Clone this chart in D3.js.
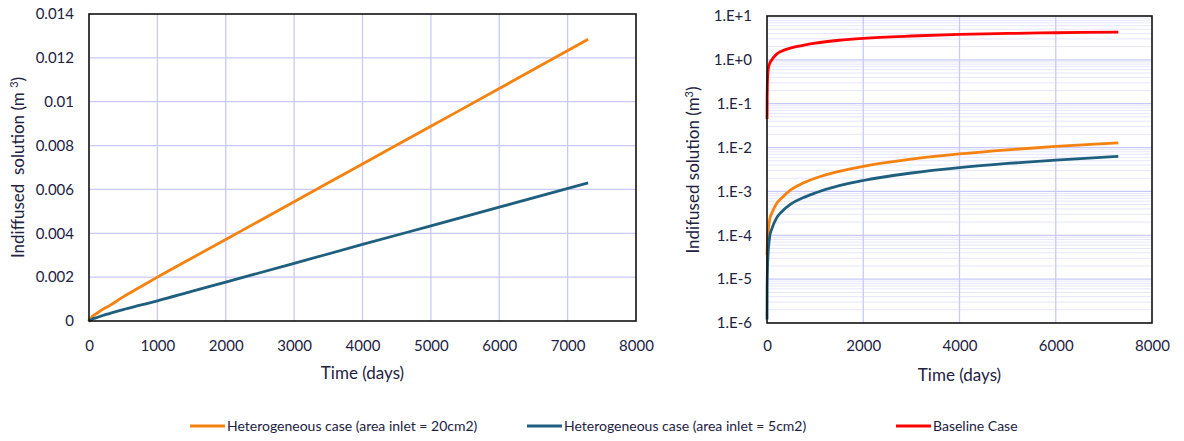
<!DOCTYPE html>
<html>
<head lang="en">
    <meta charset="UTF-8">
    <title>Indiffused solution</title>
    <script type="text/javascript" src="https://cdnjs.cloudflare.com/ajax/libs/d3/7.8.5/d3.min.js"></script>
    <style>
        body { margin: 0; background: #fff; }
        text { font-family: Lato, "Open Sans", sans-serif; fill: #22223f; }
    </style>
</head>
<body>
<svg id="mainSvg"></svg>
<script>
    // time steps (days) and the three series
    var timeDays = [0, 1, 3, 8, 15, 30, 60, 100, 200, 300, 500, 750, 1000, 1500, 2000, 3000, 4000, 5000, 6000, 7300];
    var hetero20 = [0, 3.5e-5, 4.5e-5, 6.5e-5, 9e-5, 1.4e-4, 2.4e-4, 3.2e-4, 5.3e-4, 7e-4, 1.1e-3, 1.55e-3, 2.0e-3, 2.86e-3, 3.72e-3, 5.44e-3, 7.16e-3, 8.88e-3, 1.06e-2, 1.285e-2];
    var hetero5 = [0, 1.2e-6, 6e-6, 1.4e-5, 2.6e-5, 5e-5, 1e-4, 1.4e-4, 2.5e-4, 3.4e-4, 5.2e-4, 7.2e-4, 9.2e-4, 1.35e-3, 1.775e-3, 2.63e-3, 3.49e-3, 4.34e-3, 5.19e-3, 6.3e-3];
    var baseline = [null, 0.045, 0.12, 0.28, 0.45, 0.65, 0.85, 1.0, 1.35, 1.58, 1.88, 2.15, 2.4, 2.8, 3.1, 3.5, 3.8, 4.0, 4.15, 4.3];

    var seriesNames = ["Heterogeneous case (area inlet = 20cm2)", "Heterogeneous case (area inlet = 5cm2)", "Baseline Case"];
    var seriesColors = ["#f5820f", "#1f5f7e", "#ff0000"];

    var xTicksLeft = [0, 1000, 2000, 3000, 4000, 5000, 6000, 7000, 8000];
    var yTicksLeft = [0, 0.002, 0.004, 0.006, 0.008, 0.01, 0.012, 0.014];
    var yTickLabelsLeft = ["0", "0.002", "0.004", "0.006", "0.008", "0.01", "0.012", "0.014"];
    var xTicksRight = [0, 2000, 4000, 6000, 8000];
    var yExpRight = [-6, -5, -4, -3, -2, -1, 0, 1];

    var w = 1184, h = 441;
    var svg = d3.select("#mainSvg").attr("width", w).attr("height", h);

    var gridMajor = "#c9c9fb", gridMinor = "#e6e6fb";

    function series(vals) {
        return timeDays.map(function (t, i) { return {t: t, v: vals[i]}; });
    }

    // ---------- left chart (linear) ----------
    var L = {x0: 89, x1: 636, y0: 14, y1: 321};
    var xL = d3.scaleLinear().domain([0, 8000]).range([L.x0, L.x1]);
    var yL = d3.scaleLinear().domain([0, 0.014]).range([L.y1, L.y0]);

    var gl = svg.append("g");
    gl.selectAll("line.vg").data(xTicksLeft.slice(1, -1)).enter().append("line")
            .attr("x1", function (d) { return xL(d); }).attr("x2", function (d) { return xL(d); })
            .attr("y1", L.y0).attr("y2", L.y1).attr("stroke", gridMajor).attr("stroke-width", 1.3);
    gl.selectAll("line.hg").data(yTicksLeft.slice(1, -1)).enter().append("line")
            .attr("y1", function (d) { return yL(d); }).attr("y2", function (d) { return yL(d); })
            .attr("x1", L.x0).attr("x2", L.x1).attr("stroke", gridMajor).attr("stroke-width", 1.3);

    var lineL = d3.line().x(function (d) { return xL(d.t); }).y(function (d) { return yL(d.v); }).curve(d3.curveMonotoneX);
    [hetero20, hetero5].forEach(function (vals, i) {
        gl.append("path").datum(series(vals)).attr("d", lineL)
                .attr("fill", "none").attr("stroke", seriesColors[i]).attr("stroke-width", 2.8);
    });

    gl.append("rect").attr("x", L.x0).attr("y", L.y0).attr("width", L.x1 - L.x0).attr("height", L.y1 - L.y0)
            .attr("fill", "none").attr("stroke", "#111").attr("stroke-width", 1.6);

    gl.append("g").attr("transform", "translate(0," + L.y1 + ")")
            .call(d3.axisBottom(xL).tickValues(xTicksLeft).tickSize(0).tickPadding(19).tickFormat(d3.format("d")));
    gl.append("g").attr("transform", "translate(" + L.x0 + ",0)")
            .call(d3.axisLeft(yL).tickValues(yTicksLeft).tickSize(0).tickPadding(15)
                    .tickFormat(function (d, i) { return yTickLabelsLeft[i]; }));

    gl.append("text").attr("x", (L.x0 + L.x1) / 2).attr("y", 379).attr("text-anchor", "middle")
            .attr("font-size", 17).text("Time (days)");
    gl.append("text").attr("transform", "translate(24," + (L.y0 + L.y1) / 2 + ") rotate(-90)")
            .attr("text-anchor", "middle").attr("font-size", 17).attr("xml:space", "preserve")
            .html('Indiffused  solution (m <tspan font-size="11" dy="-6">3</tspan><tspan dy="6">)</tspan>');

    // ---------- right chart (log) ----------
    var R = {x0: 767, x1: 1152, y0: 16, y1: 323};
    var xR = d3.scaleLinear().domain([0, 8000]).range([R.x0, R.x1]);
    var yR = d3.scaleLog().domain([1e-6, 10]).range([R.y1, R.y0]);

    var gr = svg.append("g");
    var minorVals = [];
    yExpRight.slice(0, -1).forEach(function (e) {
        for (var k = 2; k <= 9; k++) minorVals.push(k * Math.pow(10, e));
    });
    gr.selectAll("line.mg").data(minorVals).enter().append("line")
            .attr("y1", function (d) { return yR(d); }).attr("y2", function (d) { return yR(d); })
            .attr("x1", R.x0).attr("x2", R.x1).attr("stroke", gridMinor).attr("stroke-width", 1);
    gr.selectAll("line.hg").data(yExpRight.slice(1, -1)).enter().append("line")
            .attr("y1", function (d) { return yR(Math.pow(10, d)); }).attr("y2", function (d) { return yR(Math.pow(10, d)); })
            .attr("x1", R.x0).attr("x2", R.x1).attr("stroke", gridMajor).attr("stroke-width", 1.3);
    gr.selectAll("line.vg").data(xTicksRight.slice(1, -1)).enter().append("line")
            .attr("x1", function (d) { return xR(d); }).attr("x2", function (d) { return xR(d); })
            .attr("y1", R.y0).attr("y2", R.y1).attr("stroke", gridMajor).attr("stroke-width", 1.3);

    var lineR = d3.line().x(function (d) { return xR(d.t); }).y(function (d) { return yR(d.v); }).curve(d3.curveMonotoneX);
    [hetero20, hetero5, baseline].forEach(function (vals, i) {
        var pts = series(vals).filter(function (d) { return d.v != null && d.v > 0; });
        gr.append("path").datum(pts).attr("d", lineR)
                .attr("fill", "none").attr("stroke", seriesColors[i]).attr("stroke-width", 2.8);
    });

    gr.append("rect").attr("x", R.x0).attr("y", R.y0).attr("width", R.x1 - R.x0).attr("height", R.y1 - R.y0)
            .attr("fill", "none").attr("stroke", "#111").attr("stroke-width", 1.6);

    gr.append("g").attr("transform", "translate(0," + R.y1 + ")")
            .call(d3.axisBottom(xR).tickValues(xTicksRight).tickSize(0).tickPadding(17).tickFormat(d3.format("d")));
    gr.append("g").attr("transform", "translate(" + R.x0 + ",0)")
            .call(d3.axisLeft(yR).tickValues(yExpRight.map(function (e) { return Math.pow(10, e); }))
                    .tickSize(0).tickPadding(15)
                    .tickFormat(function (d) {
                        var e = Math.round(Math.log10(d));
                        return "1.E" + (e >= 0 ? "+" : "-") + Math.abs(e);
                    }));

    gr.append("text").attr("x", (R.x0 + R.x1) / 2).attr("y", 381).attr("text-anchor", "middle")
            .attr("font-size", 17).text("Time (days)");
    gr.append("text").attr("transform", "translate(699," + 170 + ") rotate(-90)")
            .attr("text-anchor", "middle").attr("font-size", 17)
            .html('Indifused solution (m<tspan font-size="11" dy="-6">3</tspan><tspan dy="6">)</tspan>');

    svg.selectAll(".domain").remove();
    svg.selectAll(".tick text").attr("font-size", 15).attr("fill", "#22223f");

    // ---------- legend ----------
    var legendX = [190, 527, 896];
    var lg = svg.append("g").attr("transform", "translate(0,426)");
    var items = lg.selectAll("g").data(seriesNames).enter().append("g")
            .attr("transform", function (d, i) { return "translate(" + legendX[i] + ",0)"; });
    items.append("line").attr("x1", 0).attr("x2", 35).attr("y1", 0).attr("y2", 0)
            .attr("stroke", function (d, i) { return seriesColors[i]; }).attr("stroke-width", 2.8);
    items.append("text").attr("x", 37).attr("y", 5).attr("font-size", 14).text(function (d) { return d; });
</script>
</body>
</html>
